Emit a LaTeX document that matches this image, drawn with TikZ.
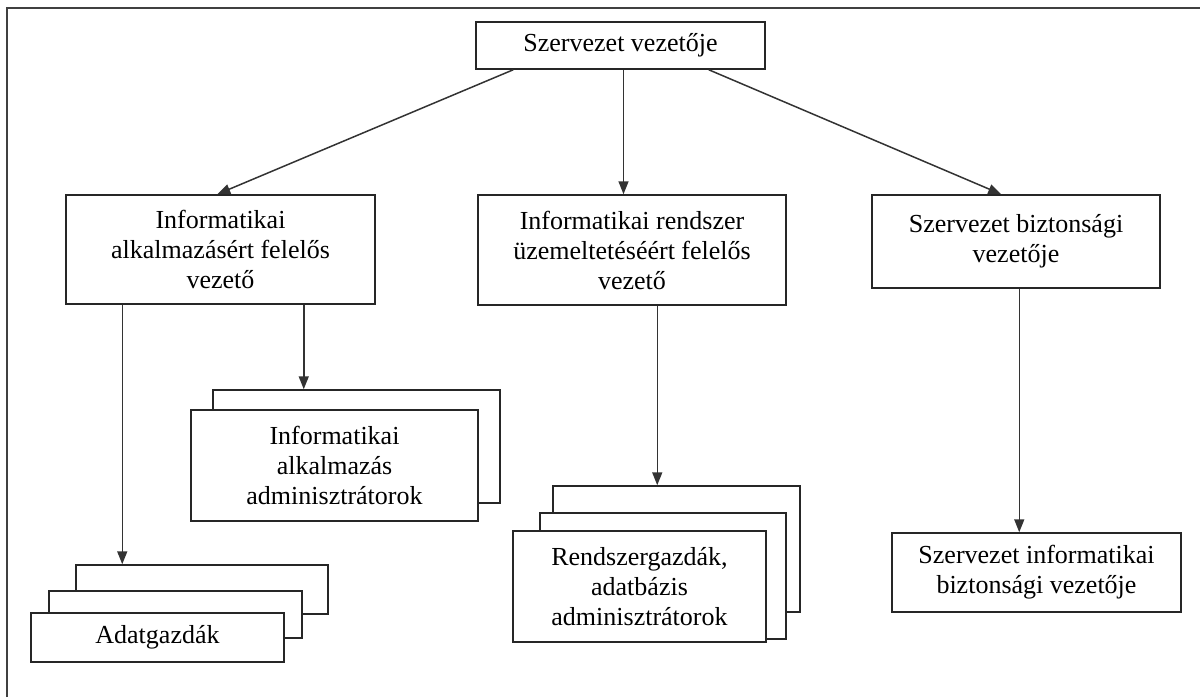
\documentclass[tikz,border=0pt]{standalone}
\usepackage{fontspec}
\setmainfont{Liberation Serif}
\usetikzlibrary{arrows.meta,calc}
\begin{document}
\begin{tikzpicture}[x=1pt,y=-1pt,
  box/.style={draw=black!85, line width=1.5pt, fill=white, align=center,
    inner sep=0pt, font=\fontsize{26}{30}\selectfont},
  conn/.style={draw=black!80, line width=1.5pt,
    -{Triangle[length=13pt,width=10pt]}},
  frameline/.style={draw=black!75, line width=2.2pt}]
\useasboundingbox (0,0) rectangle (1200,697);

% page frame (left and top edges only)
\draw[frameline] (7,697) -- (7,8) -- (1200,8);

% top level
\node[box, minimum width=289pt, minimum height=47pt] (top) at (620.5,45.5) {Szervezet vezetője};

% second level
\node[box, minimum width=309pt, minimum height=109pt] (A) at (220.5,249.5)
  {Informatikai\\alkalmazásért felelős\\vezető};
\node[box, minimum width=308pt, minimum height=110pt] (B) at (632,250)
  {Informatikai rendszer\\üzemeltetéséért felelős\\vezető};
\node[box, minimum width=288pt, minimum height=93pt] (C) at (1016,241.5)
  {Szervezet biztonsági\\vezetője};

% application administrators (stacked)
\node[box, minimum width=287pt, minimum height=113pt] (adminback) at (356.5,446.5) {};
\node[box, minimum width=287pt, minimum height=111pt] (admin) at (334.5,465.5)
  {Informatikai\\alkalmazás\\adminisztrátorok};

% data owners (stacked)
\node[box, minimum width=252pt, minimum height=49pt] (adatback) at (202,589.5) {};
\node[box, minimum width=253pt, minimum height=47pt] (adatmid) at (175.5,614.5) {};
\node[box, minimum width=253pt, minimum height=49pt] (adat) at (157.5,637.5) {Adatgazdák};

% system administrators (stacked)
\node[box, minimum width=247pt, minimum height=126pt] (rgback) at (676.5,549) {};
\node[box, minimum width=246pt, minimum height=126pt] (rgmid) at (663,576) {};
\node[box, minimum width=253pt, minimum height=111pt] (rg) at (639.5,586.5)
  {Rendszergazdák,\\adatbázis\\adminisztrátorok};

% IT security manager
\node[box, minimum width=289pt, minimum height=79pt] (D) at (1036.5,572.5)
  {Szervezet informatikai\\biztonsági vezetője};

% connectors
\draw[conn] ([xshift=38pt]top.south west) -- ([xshift=152pt]A.north west);
\draw[conn] ([xshift=3pt]top.south) -- ([xshift=3pt]top.south |- B.north);
\draw[conn] ([xshift=-57pt]top.south east) -- ([xshift=130pt]C.north west);

\coordinate (a1) at ([xshift=-72pt]A.south east);
\coordinate (a2) at ([xshift=57pt]A.south west);
\coordinate (b1) at ([xshift=180pt]B.south west);
\coordinate (c1) at ([xshift=148pt]C.south west);
\draw[conn] (a1) -- (a1 |- adminback.north);
\draw[conn] (a2) -- (a2 |- adatback.north);
\draw[conn] (b1) -- (b1 |- rgback.north);
\draw[conn] (c1) -- (c1 |- D.north);
\end{tikzpicture}
\end{document}
